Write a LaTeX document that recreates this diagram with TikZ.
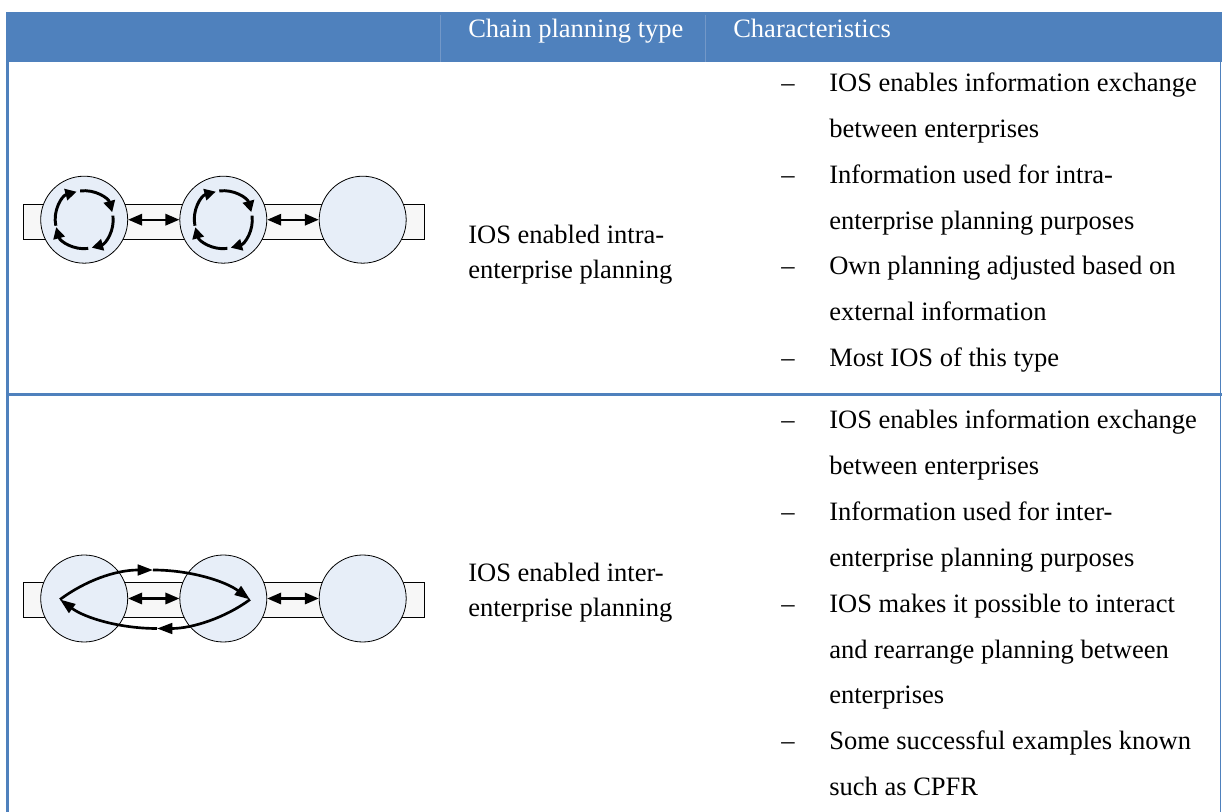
\documentclass[tikz,border=0pt]{standalone}
\usepackage{fontspec}
\setmainfont{Liberation Serif}
\usetikzlibrary{arrows.meta}
\definecolor{hdrblue}{HTML}{4F81BD}
\definecolor{hdrline}{HTML}{7398C8}
\definecolor{discfill}{HTML}{E7EEF8}
\definecolor{barfill}{HTML}{F7F7F7}
\begin{document}
\begin{tikzpicture}[x=0.75pt, y=-0.75pt,
  txt/.style={anchor=base west, inner sep=0, font=\fontsize{19.9}{23}\selectfont},
  hdr/.style={txt, text=white},
  disc/.style={circle, draw=black, line width=0.6pt, fill=discfill, minimum size=65.25pt, inner sep=0},
  bar/.style={rectangle, draw=black, line width=0.6pt, fill=barfill, minimum width=300.5pt, minimum height=26.2pt, inner sep=0},
  link/.style={line width=1.7pt, {Triangle[length=10.5pt,width=8.5pt]}-{Triangle[length=10.5pt,width=8.5pt]}},
  cyc/.style={line width=2.2pt, -{Triangle[length=8.5pt,width=8.5pt]}},
  flow/.style={line width=2pt, -{Triangle[length=11.5pt,width=8pt]}}]
\useasboundingbox (0,0) rectangle (1222,812);

% table frame
\fill[hdrblue] (6,12) rectangle (1222,62);
\draw[hdrline, line width=0.75pt] (440,15) -- (440,62);
\draw[hdrline, line width=0.75pt] (705,15) -- (705,62);
\fill[hdrblue] (6,62) rectangle (9,812);
\fill[hdrblue] (6,393) rectangle (1222,396);
\draw[hdrblue, line width=0.9pt] (1220.8,62) -- (1220.8,812);

% header
\node[hdr] (h1) at (468,37.3) {Chain planning type};
\node[hdr] (h2) at (733,37.3) {Characteristics};

% row 1: intra-enterprise planning
\node[bar] (barA) at (223.7,221.5) {};
\node[disc] (a1) at (84.2,219.7) {};
\node[disc] (a2) at (223.3,219.7) {};
\node[disc] (a3) at (362.7,219.7) {};
\draw[link] (a1) -- (a2);
\draw[link] (a2) -- (a3);
\foreach \n in {a1,a2}
  \foreach \s/\e in {-192/-105,-98/-15,-8/75,82/165}
    \draw[cyc] ([shift={(\s:29)}]\n.center) arc[start angle=\s, end angle=\e, radius=29];

\node[txt] (t1a) at (468,244) {IOS enabled intra-};
\node[txt] (t1b) at (468,279) {enterprise planning};

\node[txt] (d11) at (781,91.7) {\textendash};
\node[txt] (c11) at (829,91.7) {IOS enables information exchange};
\node[txt] (c12) at (829,137.5) {between enterprises};
\node[txt] (d13) at (781,183.4) {\textendash};
\node[txt] (c13) at (829,183.4) {Information used for intra-};
\node[txt] (c14) at (829,229.2) {enterprise planning purposes};
\node[txt] (d15) at (781,275.0) {\textendash};
\node[txt] (c15) at (829,275.0) {Own planning adjusted based on};
\node[txt] (c16) at (829,320.9) {external information};
\node[txt] (d17) at (781,366.7) {\textendash};
\node[txt] (c17) at (829,366.7) {Most IOS of this type};

% row 2: inter-enterprise planning
\node[bar] (barB) at (223.7,600) {};
\node[disc] (b1) at (84.2,598.5) {};
\node[disc] (b2) at (223.3,598.5) {};
\node[disc] (b3) at (362.7,598.5) {};
\draw[link] (b1) -- (b2);
\draw[link] (b2) -- (b3);
\coordinate (pL) at (60,599.5);
\coordinate (pR) at (250,599.5);
\coordinate (mT) at (153,570);
\coordinate (mB) at (157,628.5);
\draw[flow] (pL) .. controls (85,581) and (115,570) .. (mT);
\draw[flow] (mT) .. controls (190,570) and (225,581) .. (pR);
\draw[flow] (pR) .. controls (225,618) and (192,628.5) .. (mB);
\draw[flow] (mB) .. controls (120,628.5) and (85,618) .. (pL);

\node[txt] (t2a) at (468,582) {IOS enabled inter-};
\node[txt] (t2b) at (468,617) {enterprise planning};

\node[txt] (d21) at (781,429) {\textendash};
\node[txt] (c21) at (829,429) {IOS enables information exchange};
\node[txt] (c22) at (829,474.8) {between enterprises};
\node[txt] (d23) at (781,520.7) {\textendash};
\node[txt] (c23) at (829,520.7) {Information used for inter-};
\node[txt] (c24) at (829,566.5) {enterprise planning purposes};
\node[txt] (d25) at (781,612.3) {\textendash};
\node[txt] (c25) at (829,612.3) {IOS makes it possible to interact};
\node[txt] (c26) at (829,658.2) {and rearrange planning between};
\node[txt] (c27) at (829,704) {enterprises};
\node[txt] (d28) at (781,749.8) {\textendash};
\node[txt] (c28) at (829,749.8) {Some successful examples known};
\node[txt] (c29) at (829,795.7) {such as CPFR};
\end{tikzpicture}
\end{document}
